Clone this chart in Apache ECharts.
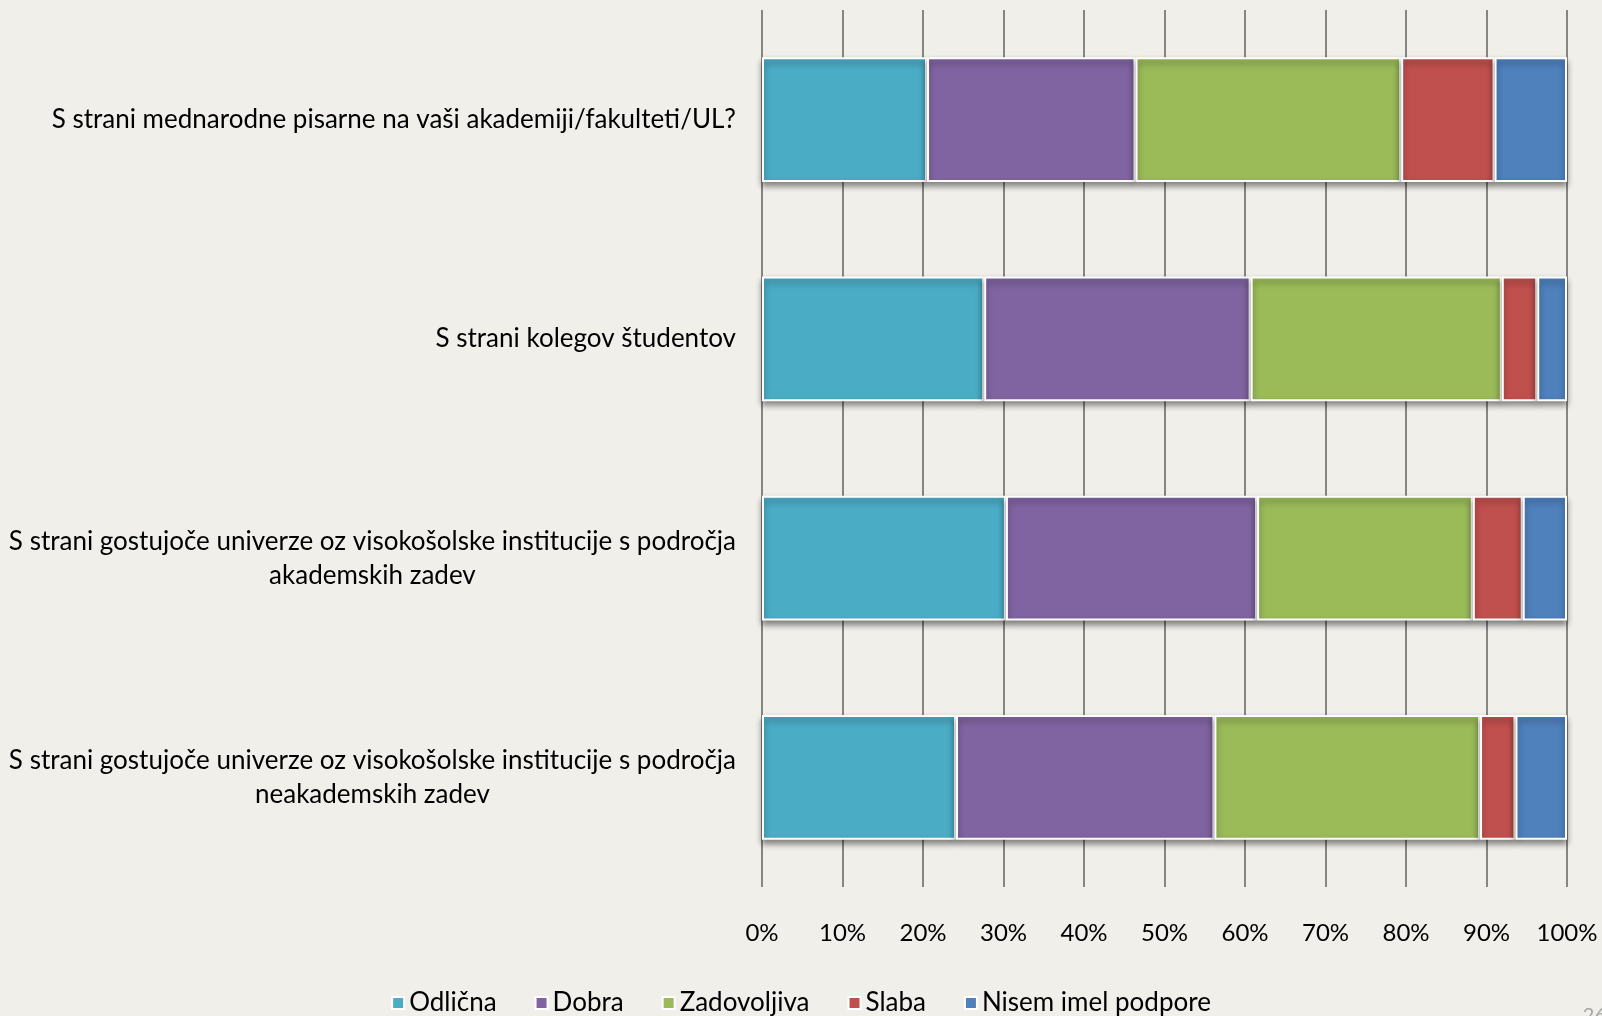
<!DOCTYPE html>
<html>
<head>
<meta charset="utf-8">
<script src="https://cdn.jsdelivr.net/npm/echarts@6/dist/echarts.min.js"></script>
<style>
  html, body { margin: 0; padding: 0; background: #f0efea; }
  #main { width: 1602px; height: 1016px; }
</style>
</head>
<body>
<div id="main"></div>
<script>
// categories (top to bottom), line breaks as in the slide
const categories = [
  'S strani mednarodne pisarne na vaši akademiji/fakulteti/UL?',
  'S strani kolegov študentov',
  'S strani gostujoče univerze oz visokošolske institucije s področja\nakademskih zadev',
  'S strani gostujoče univerze oz visokošolske institucije s področja\nneakademskih zadev'
];
const seriesNames = ['Odlična', 'Dobra', 'Zadovoljiva', 'Slaba', 'Nisem imel podpore'];
// percent shares
const odlicna     = [20.5, 27.6, 30.3, 24.1];
const dobra       = [25.9, 33.1, 31.2, 32.1];
const zadovoljiva = [33.0, 31.2, 26.8, 33.0];
const slaba       = [11.6,  4.4,  6.2,  4.4];
const nisem       = [ 9.0,  3.7,  5.5,  6.4];
const xTicks = [0, 10, 20, 30, 40, 50, 60, 70, 80, 90, 100];

const colors = ['#4bacc6', '#8064a2', '#9bbb59', '#c0504d', '#4f81bd'];
const values = [odlicna, dobra, zadovoljiva, slaba, nisem];

const chart = echarts.init(document.getElementById('main'));

const font = 'Lato';

const option = {
  backgroundColor: '#f0efea',
  color: colors,
  textStyle: { fontFamily: font },
  grid: { left: 762, right: 35, top: 10, bottom: 129, containLabel: false },
  legend: {
    top: 985,
    left: 'center',
    icon: 'rect',
    itemWidth: 12,
    itemHeight: 12,
    itemGap: 38,
    textStyle: { fontSize: 26, color: '#000', fontFamily: font },
    data: seriesNames
  },
  xAxis: {
    type: 'value',
    min: 0,
    max: 100,
    interval: 10,
    axisLine: { show: false },
    axisTick: { show: false },
    axisLabel: {
      margin: 34,
      fontSize: 24,
      color: '#000',
      fontFamily: font,
      formatter: v => xTicks.includes(v) ? v + '%' : ''
    },
    splitLine: { show: true, lineStyle: { color: '#858585', width: 2 } }
  },
  yAxis: {
    type: 'category',
    inverse: true,
    data: categories,
    axisLine: { show: false },
    axisTick: { show: false },
    axisLabel: {
      margin: 26,
      fontSize: 26,
      color: '#000',
      fontFamily: font,
      lineHeight: 34,
      formatter: v => v.split('\n').map(s => '{c|' + s + '}').join('\n'),
      rich: { c: { align: 'center', fontSize: 26, lineHeight: 34, fontFamily: font, color: '#000' } }
    }
  },
  series: seriesNames.map((name, i) => ({
    name: name,
    type: 'bar',
    stack: 'total',
    barCategoryGap: '43%',
    data: values[i],
    itemStyle: {
      borderColor: '#ffffff',
      borderWidth: 2,
      shadowColor: 'rgba(0,0,0,0.45)',
      shadowBlur: 6,
      shadowOffsetY: 4
    },
    emphasis: { disabled: true }
  }))
};

chart.setOption(option);

// page number, clipped at the slide edge
chart.setOption({
  graphic: [{
    type: 'text',
    right: -4,
    bottom: -10,
    style: { text: '26', fontSize: 20, fill: '#a6a6a6', fontFamily: font }
  }]
});
</script>
</body>
</html>
